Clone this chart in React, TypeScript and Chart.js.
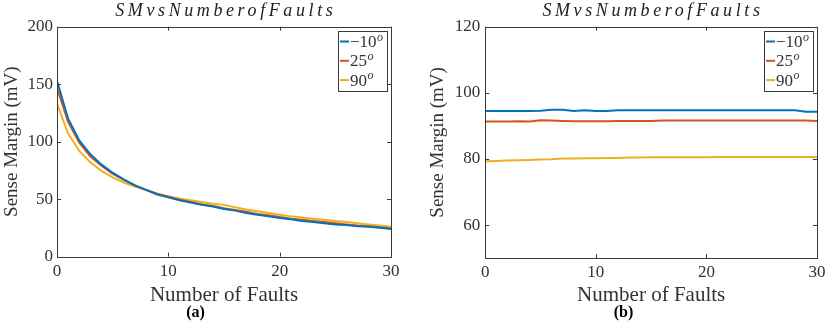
import React, { useEffect, useRef } from "react";
import { Chart, registerables } from "chart.js";

Chart.register(...registerables);

// ---- data ----
const faults = [0, 1, 2, 3, 4, 5, 6, 7, 8, 9, 10, 11, 12, 13, 14, 15, 16, 17, 18, 19, 20, 21, 22, 23, 24, 25, 26, 27, 28, 29, 30];

const seriesLabels = ["\u221210", "25", "90"];
const seriesColors = ["#0072BD", "#D95319", "#EDB120"];

// (a) SM vs number of faults
const smA_m10 = [153, 120, 101, 89, 80, 73, 67, 62, 58, 54, 51.5, 49, 47, 45, 43.5, 41.5, 40, 38, 36.5, 35, 33.5, 32.5, 31, 30, 29, 28, 27.5, 26.5, 26, 25, 24];
const smA_25 = [147, 117, 99, 87, 79, 72, 67, 62, 58, 54.5, 52, 49.5, 47.5, 45.5, 44, 42, 40.5, 39, 37, 36, 34.5, 33, 32, 31, 30, 29, 28, 27, 26.5, 25.5, 24.5];
const smA_90 = [133, 107, 92, 82, 74.5, 69, 64.5, 61, 58, 55, 52.5, 50.5, 49, 47.5, 46, 45, 43, 41, 39.5, 38, 36.5, 35, 34, 33, 32, 31, 30, 29, 28, 27, 26];

// (b) SM vs number of faults
const smB_m10 = [94.5, 94.5, 94.5, 94.5, 94.5, 94.6, 94.9, 94.9, 94.5, 94.7, 94.5, 94.5, 94.7, 94.7, 94.7, 94.7, 94.7, 94.7, 94.7, 94.7, 94.7, 94.7, 94.7, 94.7, 94.7, 94.7, 94.7, 94.7, 94.7, 94.3, 94.3];
const smB_25 = [91.3, 91.3, 91.3, 91.4, 91.3, 91.7, 91.6, 91.5, 91.4, 91.4, 91.4, 91.4, 91.5, 91.5, 91.5, 91.5, 91.6, 91.6, 91.6, 91.6, 91.6, 91.6, 91.6, 91.6, 91.6, 91.6, 91.6, 91.6, 91.6, 91.6, 91.5];
const smB_90 = [79.3, 79.4, 79.5, 79.6, 79.7, 79.8, 79.9, 80.1, 80.1, 80.2, 80.2, 80.3, 80.3, 80.4, 80.4, 80.5, 80.5, 80.5, 80.5, 80.5, 80.5, 80.6, 80.6, 80.6, 80.6, 80.6, 80.6, 80.6, 80.6, 80.6, 80.6];

const chartTitle = "SMvsNumberofFaults";
const xTitle = "Number of Faults";
const yTitle = "Sense Margin (mV)";

const SERIF = '"Liberation Serif", "Times New Roman", serif';
const AXIS_COLOR = "#3a3a3a";
const TEXT_COLOR = "#333";

// ---- plugin: MATLAB-like title, box, inward ticks and legend ----
const matlabPlugin = {
  id: "matlabBox",
  afterDatasetsDraw(chart: any) {
    const { ctx, chartArea, scales } = chart;
    const { left, right, top, bottom } = chartArea;
    const tl = 4;
    ctx.save();
    ctx.strokeStyle = AXIS_COLOR;
    ctx.lineWidth = 1;
    ctx.strokeRect(Math.round(left) + 0.5, Math.round(top) + 0.5, Math.round(right - left), Math.round(bottom - top));
    ctx.beginPath();
    scales.x.ticks.forEach((t: any) => {
      const px = Math.round(scales.x.getPixelForValue(t.value)) + 0.5;
      ctx.moveTo(px, bottom);
      ctx.lineTo(px, bottom - tl);
      ctx.moveTo(px, top);
      ctx.lineTo(px, top + tl);
    });
    scales.y.ticks.forEach((t: any) => {
      const py = Math.round(scales.y.getPixelForValue(t.value)) + 0.5;
      ctx.moveTo(left, py);
      ctx.lineTo(left + tl, py);
      ctx.moveTo(right, py);
      ctx.lineTo(right - tl, py);
    });
    ctx.stroke();

    // title (math-italic look)
    ctx.fillStyle = "#222";
    ctx.textAlign = "center";
    ctx.textBaseline = "middle";
    ctx.font = `italic 18px ${SERIF}`;
    (ctx as any).letterSpacing = "3.6px";
    ctx.fillText(chartTitle, (left + right) / 2 + 1.8, 11.5);
    (ctx as any).letterSpacing = "0px";

    // legend
    const w = 49;
    const h = 60;
    const x0 = Math.round(right - 4.5 - w);
    const y0 = Math.round(top + 4.5);
    ctx.fillStyle = "#fff";
    ctx.fillRect(x0, y0, w, h);
    ctx.strokeStyle = AXIS_COLOR;
    ctx.lineWidth = 1;
    ctx.strokeRect(x0 + 0.5, y0 + 0.5, w, h);
    chart.data.datasets.forEach((ds: any, i: number) => {
      const cy = y0 + 10.5 + i * 19.3;
      ctx.strokeStyle = ds.borderColor;
      ctx.lineWidth = 2;
      ctx.beginPath();
      ctx.moveTo(x0 + 2, cy);
      ctx.lineTo(x0 + 11, cy);
      ctx.stroke();
      ctx.fillStyle = TEXT_COLOR;
      ctx.textAlign = "left";
      ctx.textBaseline = "middle";
      ctx.font = `17px ${SERIF}`;
      ctx.fillText(ds.label, x0 + 12, cy + 1);
      const tw = ctx.measureText(ds.label).width;
      ctx.font = `italic 12px ${SERIF}`;
      ctx.fillText("o", x0 + 12 + tw + 0.5, cy - 4);
    });
    ctx.restore();
  },
};

type PanelProps = {
  series: number[][];
  yMin: number;
  yMax: number;
  yStep: number;
  tag: string;
  padLeft: number;
  padRight: number;
  padTop: number;
  yTitlePadTop: number;
  yTitlePadBottom: number;
  yTickPad: number;
  xTickPad: number;
  xTitleLH: number;
  xTitlePadTop: number;
  xTitlePadBottom: number;
};

function Panel(p: PanelProps) {
  const ref = useRef<HTMLCanvasElement>(null);
  useEffect(() => {
    if (!ref.current) return;
    const chart = new Chart(ref.current, {
      type: "line",
      data: {
        datasets: p.series.map((vals, i) => ({
          label: seriesLabels[i],
          data: faults.map((f, j) => ({ x: f, y: vals[j] })),
          borderColor: seriesColors[i],
          backgroundColor: seriesColors[i],
          borderWidth: 2,
          pointRadius: 0,
          tension: 0,
          fill: false,
        })),
      },
      options: {
        animation: false,
        responsive: false,
        events: [],
        layout: { padding: { left: p.padLeft, right: p.padRight, top: p.padTop, bottom: 0 } },
        plugins: {
          legend: { display: false },
          tooltip: { enabled: false },
          title: { display: false },
          subtitle: {
            display: true,
            position: "bottom",
            text: p.tag,
            color: "#000",
            font: { family: SERIF, weight: "bold", size: 16, lineHeight: 1 },
            padding: { top: 0, bottom: 6 },
          },
        },
        scales: {
          x: {
            type: "linear",
            min: 0,
            max: 30,
            grid: { display: false, drawTicks: false },
            border: { display: false },
            ticks: { stepSize: 10, padding: p.xTickPad, color: TEXT_COLOR, font: { family: SERIF, size: 17 }, maxRotation: 0 },
            title: {
              display: true,
              text: xTitle,
              color: TEXT_COLOR,
              font: { family: SERIF, size: 21, lineHeight: p.xTitleLH },
              padding: { top: p.xTitlePadTop, bottom: p.xTitlePadBottom },
            },
          },
          y: {
            type: "linear",
            min: p.yMin,
            max: p.yMax,
            grid: { display: false, drawTicks: false },
            border: { display: false },
            ticks: { stepSize: p.yStep, includeBounds: false, padding: p.yTickPad, color: TEXT_COLOR, font: { family: SERIF, size: 17 } },
            title: {
              display: true,
              text: yTitle,
              color: TEXT_COLOR,
              font: { family: SERIF, size: 19, lineHeight: 1 },
              padding: { top: p.yTitlePadTop, bottom: p.yTitlePadBottom },
            },
          },
        },
      },
      plugins: [matlabPlugin],
    } as any);
    return () => chart.destroy();
  }, []);
  return <canvas ref={ref} width={415} height={327} style={{ display: "block" }} />;
}

export default function App() {
  return (
    <div style={{ position: "fixed", left: 0, top: 0, width: 830, height: 327, background: "#fff" }}>
      <div style={{ position: "absolute", left: 0, top: 0 }}>
        <Panel
          series={[smA_m10, smA_25, smA_90]}
          yMin={0}
          yMax={200}
          yStep={50}
          tag="(a)"
          padLeft={0}
          padRight={24}
          padTop={26.7}
          yTitlePadTop={2.5}
          yTitlePadBottom={2}
          yTickPad={4}
          xTickPad={5}
          xTitleLH={16 / 21}
          xTitlePadTop={0}
          xTitlePadBottom={2}
        />
      </div>
      <div style={{ position: "absolute", left: 415, top: 0 }}>
        <Panel
          series={[smB_m10, smB_25, smB_90]}
          yMin={50}
          yMax={120}
          yStep={20}
          tag="(b)"
          padLeft={11.8}
          padRight={9.7}
          padTop={26.7}
          yTitlePadTop={2}
          yTitlePadBottom={2}
          yTickPad={5}
          xTickPad={4.5}
          xTitleLH={15 / 21}
          xTitlePadTop={0}
          xTitlePadBottom={2.5}
        />
      </div>
    </div>
  );
}
